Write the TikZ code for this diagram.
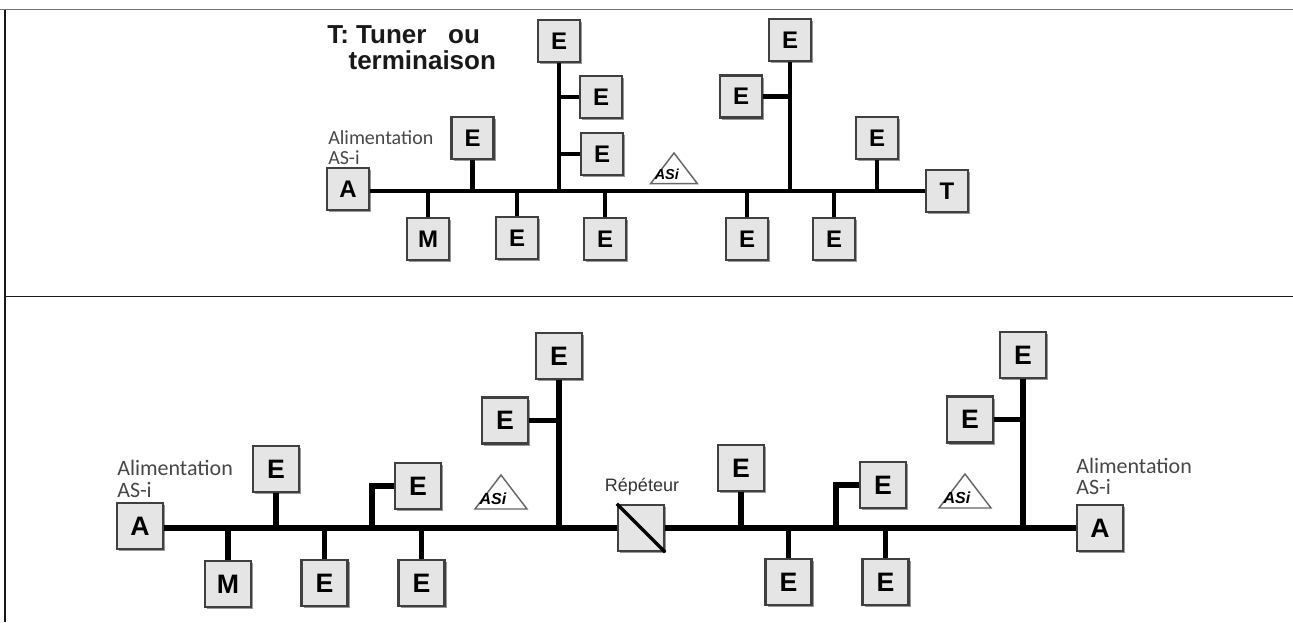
\documentclass[tikz,border=0pt]{standalone}
\usepackage{fontspec}
\setmainfont{Liberation Sans}
\newfontfamily\labfont{Carlito}
\usetikzlibrary{backgrounds,shadows}

\begin{document}
\begin{tikzpicture}[x=.75pt,y=-.75pt,
  unit/.style={draw=black!75,fill=black!10,line width=1.7pt,inner sep=0pt,
    drop shadow={shadow xshift=1.5pt,shadow yshift=-1.5pt,opacity=.4,fill=black},
    font=\bfseries\fontsize{18}{18}\selectfont},
  smallunit/.style={unit,minimum size=31.5pt},
  largeunit/.style={unit,minimum size=34.5pt,font=\bfseries\fontsize{20}{20}\selectfont},
  busline/.style={line width=3.9pt,black},
  topline/.style={line width=3.3pt,black},
  supply/.style={align=left,anchor=west,inner sep=0pt,text=black!72,font=\labfont\fontsize{15}{14.5}\selectfont},
  aslogo/.pic={
    \coordinate (apex) at (0,0);
    \draw[black!60,line width=1.1pt,fill=white] (apex)--(-26,34)--(26,34)--cycle;
    \node[inner sep=0pt,font=\bfseries\itshape\fontsize{12}{12}\selectfont] (-mark) at (-8,24) {ASi};
  }]
\useasboundingbox (0,0) rectangle (1293,622);
\draw[black!55,line width=1.4pt] (0,9.5)--(1293,9.5);
\draw[black!90,line width=1.2pt] (5,9.5)--(5,622) (5,296.5)--(1293,296.5);

\coordinate (tbus) at (0,191);
\coordinate (bbus) at (0,528);

\foreach \Q/\x/\y/\lab in {tA/348/189/A,tM/428/239/M,tE1/472.5/138/E,tE2/517/238/E,
  tE3/559/41/E,tE4/601/97/E,tE5/602/154/E,tE6/605/239/E,tE7/790/40/E,tE8/741/96.5/E,
  tE9/747/239/E,tE10/834/239/E,tE11/877/138/E,tT/947/191/T}
  \node[smallunit] (\Q) at (\x,\y) {\lab};
\foreach \Q/\x/\y/\lab in {bA/140/526/A,bM/228/584/M,bE1/276/469/E,bE2/324.5/583/E,
  bE3/418/486/E,bE4/421.5/583/E,bE5/559/356/E,bE6/505/420.5/E,bE7/741/468/E,
  bE8/788.5/582/E,bE9/883/485/E,bE10/885.5/582/E,bE11/1023/355/E,bE12/970/419.5/E,
  bA2/1100/528/A}
  \node[largeunit] (\Q) at (\x,\y) {\lab};
\node[largeunit] (bR) at (641,528) {};
\draw[black,line width=2.4pt] (bR.north west)--(bR.south east);

\coordinate (bK1) at (372,528);
\coordinate (bK2) at (836,528);

\begin{scope}[on background layer]
  \draw[topline] (tA |- tbus)--(tE11 |- tbus);
  \draw[topline,line width=2.6pt] (tE11 |- tbus)--(tT);
  \foreach \Q in {tM,tE1,tE2,tE3,tE6,tE7,tE9,tE10,tE11}
    \draw[topline] (\Q)--(\Q |- tbus);
  \draw[topline] (tE4)--(tE4 -| tE3) (tE5)--(tE5 -| tE3) (tE8)--(tE8 -| tE7);
  \draw[busline] (bA |- bbus)--(bA2 |- bbus);
  \foreach \Q in {bM,bE1,bE2,bE4,bE5,bE7,bE8,bE10,bE11}
    \draw[busline] (\Q)--(\Q |- bbus);
  \draw[busline] (bE6)--(bE6 -| bE5) (bE12)--(bE12 -| bE11);
  \draw[busline] (bE3)-|(bK1) (bE9)-|(bK2);
\end{scope}

\node[supply] (tsup) at (328,147.5) {Alimentation\\AS-i};
\node[supply,font=\labfont\fontsize{16.5}{16}\selectfont] (bsup) at (117,479) {Alimentation\\AS-i};
\node[supply,font=\labfont\fontsize{16.5}{16}\selectfont] (bsup2) at (1076,476.5) {Alimentation\\AS-i};
\node[anchor=center,text=black!80,font=\fontsize{13.5}{14}\selectfont] (brep) at (642,487) {Répéteur};
\node[anchor=west,align=left,inner sep=0pt,text=black!90,font=\bfseries\fontsize{19.5}{19.5}\selectfont] (tnote) at (327,48)
  {T: Tuner\ \ \ ou\\\hspace{16pt}terminaison};

\pic (tlogo) [scale=.9,transform shape] at (674,153) {aslogo};
\pic (blogo) at (501,475) {aslogo};
\pic (blogo2) at (965,474) {aslogo};
\end{tikzpicture}
\end{document}
